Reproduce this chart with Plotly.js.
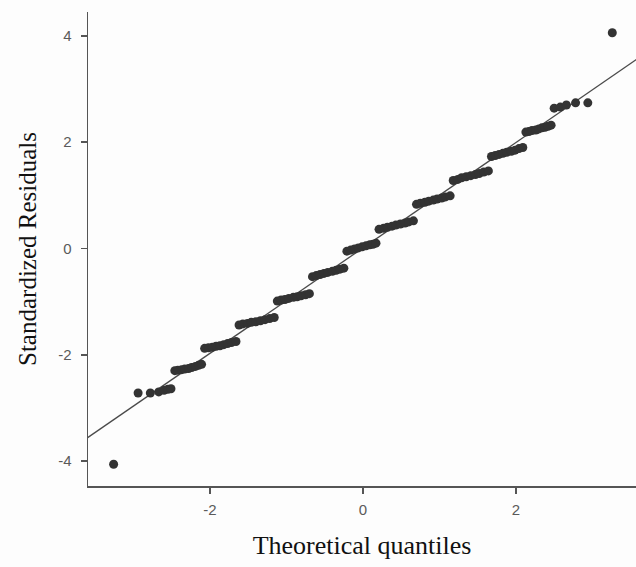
<!DOCTYPE html>
<html>
<head>
<meta charset="utf-8">
<script src="https://cdn.plot.ly/plotly-3.0.1.min.js"></script>
<style>html,body{margin:0;padding:0;background:#fdfdfd;}#chart{width:636px;height:567px;}</style>
</head>
<body>
<div id="chart"></div>
<script>
// Theoretical quantiles (x) and standardized residuals (y)
const theoreticalQuantiles = [
  -3.26,
  -2.94, -2.78, -2.67, -2.60, -2.55, -2.51,
  -2.46, -2.42, -2.37, -2.33, -2.28, -2.24, -2.19, -2.15, -2.11,
  -2.07, -2.02, -1.97, -1.92, -1.87, -1.82, -1.77, -1.72, -1.66,
  -1.62, -1.57, -1.51, -1.46, -1.40, -1.34, -1.28, -1.22, -1.16,
  -1.12, -1.07, -1.02, -0.97, -0.91, -0.86, -0.81, -0.75, -0.70,
  -0.66, -0.61, -0.56, -0.51, -0.46, -0.40, -0.35, -0.30, -0.25,
  -0.21, -0.16, -0.11, -0.06, -0.01, 0.04, 0.09, 0.13, 0.17,
  0.21, 0.27, 0.32, 0.38, 0.43, 0.49, 0.55, 0.60, 0.66,
  0.70, 0.75, 0.81, 0.86, 0.92, 0.97, 1.03, 1.08, 1.14,
  1.18, 1.24, 1.29, 1.35, 1.41, 1.47, 1.52, 1.58, 1.64,
  1.68, 1.73, 1.78, 1.83, 1.88, 1.94, 1.99, 2.04, 2.09,
  2.13, 2.17, 2.21, 2.26, 2.30, 2.34, 2.38, 2.42, 2.46,
  2.50, 2.58, 2.66, 2.78, 2.94,
  3.26
];
const standardizedResiduals = [
  -4.06,
  -2.72, -2.72, -2.70, -2.67, -2.65, -2.64,
  -2.30, -2.29, -2.28, -2.27, -2.26, -2.24, -2.22, -2.20, -2.18,
  -1.88, -1.87, -1.86, -1.84, -1.83, -1.81, -1.79, -1.77, -1.75,
  -1.44, -1.42, -1.41, -1.39, -1.38, -1.36, -1.34, -1.32, -1.30,
  -0.99, -0.97, -0.96, -0.94, -0.92, -0.91, -0.89, -0.87, -0.85,
  -0.53, -0.51, -0.49, -0.47, -0.45, -0.43, -0.41, -0.39, -0.37,
  -0.05, -0.03, -0.01, 0.01, 0.03, 0.05, 0.07, 0.08, 0.10,
  0.36, 0.38, 0.40, 0.42, 0.44, 0.46, 0.48, 0.50, 0.52,
  0.83, 0.85, 0.87, 0.89, 0.91, 0.93, 0.95, 0.97, 0.99,
  1.28, 1.30, 1.33, 1.35, 1.37, 1.39, 1.41, 1.44, 1.46,
  1.73, 1.75, 1.77, 1.79, 1.81, 1.83, 1.85, 1.88, 1.90,
  2.19, 2.20, 2.22, 2.23, 2.25, 2.27, 2.28, 2.30, 2.32,
  2.64, 2.66, 2.70, 2.74, 2.74,
  4.06
];
// Reference line endpoints
const refLineX = [-3.6, 3.6];
const refLineY = [-3.56, 3.58];

const axisColor = '#555555';
const tickFont = {family: 'Liberation Sans, Arial, sans-serif', size: 15, color: '#5a5a5a'};
const xTitleFont = {family: 'Liberation Serif, Times New Roman, serif', size: 26, color: '#111111'};
const yTitleFont = {family: 'Liberation Serif, Times New Roman, serif', size: 25, color: '#111111'};
const traces = [
  {
    x: refLineX, y: refLineY, type: 'scatter', mode: 'lines',
    line: {color: '#4a4a4a', width: 1.3}, hoverinfo: 'skip'
  },
  {
    x: theoreticalQuantiles, y: standardizedResiduals, type: 'scatter', mode: 'markers',
    marker: {color: '#333333', size: 9}
  }
];
const layout = {
  width: 636, height: 567,
  paper_bgcolor: '#fdfdfd', plot_bgcolor: '#fdfdfd',
  showlegend: false,
  margin: {l: 88, r: 0, t: 12, b: 81},
  xaxis: {
    range: [-3.595, 3.57], tickvals: [-2, 0, 2], ticktext: ['-2', '0', '2'],
    showgrid: false, zeroline: false, showline: true, linecolor: axisColor, linewidth: 1.5,
    ticks: 'outside', ticklen: 6, tickwidth: 1.5, tickcolor: axisColor, ticklabelstandoff: 3,
    tickfont: tickFont,
    title: {text: 'Theoretical quantiles', standoff: 19, font: xTitleFont}
  },
  yaxis: {
    range: [-4.47, 4.45], tickvals: [-4, -2, 0, 2, 4], ticktext: ['-4', '-2', '0', '2', '4'],
    showgrid: false, zeroline: false, showline: true, linecolor: axisColor, linewidth: 1.5,
    ticks: 'outside', ticklen: 6, tickwidth: 1.5, tickcolor: axisColor, ticklabelstandoff: 6,
    tickfont: tickFont,
    title: {text: 'Standardized Residuals', standoff: 14, font: yTitleFont}
  }
};
Plotly.newPlot('chart', traces, layout, {displayModeBar: false, staticPlot: true});
</script>
</body>
</html>
